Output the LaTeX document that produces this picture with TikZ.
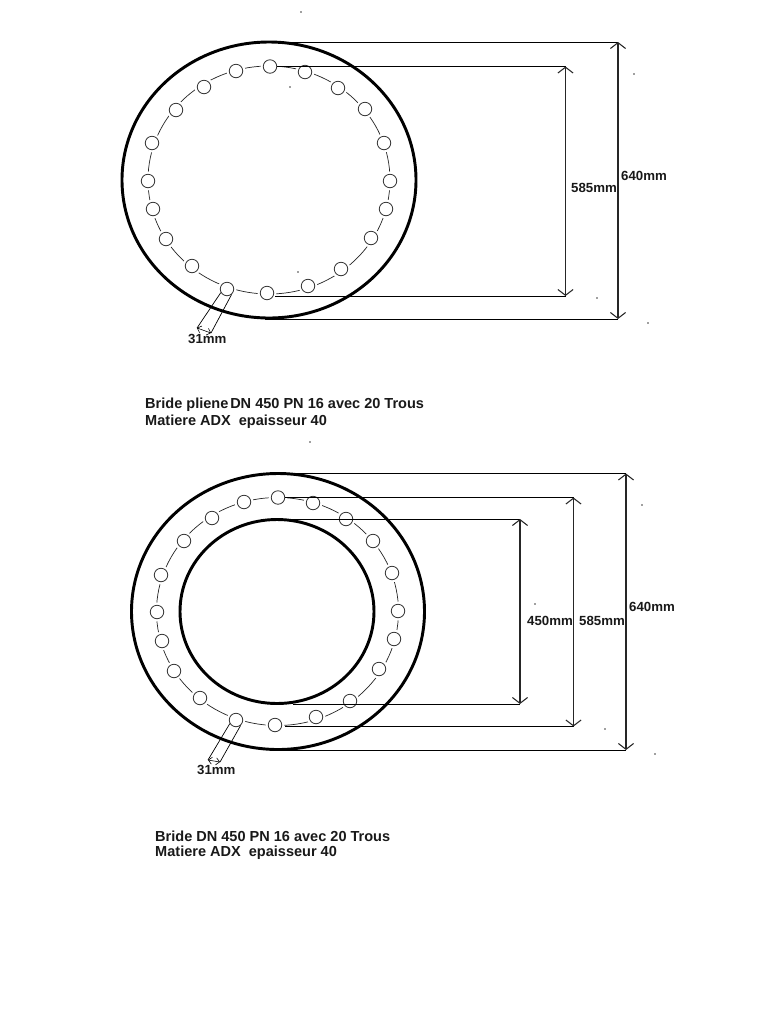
\documentclass[tikz, border=0pt]{standalone}
\usepackage{fontspec}
\setmainfont{Liberation Sans}
\usetikzlibrary{arrows.meta}
\tikzset{>={Straight Barb[length=5pt, width=13pt]}}
\tikzset{
    rim/.style={line width=2.5pt},
    ring/.style={line width=.6pt, black!85},
    hole/.style={circle, draw=black!80, fill=white, line width=.7pt, minimum size=11.5pt, inner sep=0pt,
        preaction={draw=white, line width=4.5pt}},
    ext/.style={line width=.8pt},
    dim/.style={line width=.9pt, black!85, <->},
    lab/.style={font=\bfseries\fontsize{11.3}{12}\selectfont, inner sep=0pt, text=black!90, anchor=west},
    caption/.style={font=\bfseries\fontsize{12.4}{14}\selectfont, inner sep=0pt, text=black!90, anchor=west},
    speck/.style={fill=black!75, inner sep=0pt, minimum size=1.4pt, circle},
}

\begin{document}
\begin{tikzpicture}[x=.03cm, y=-.03cm]
    \useasboundingbox[fill=white](0, 0)rectangle(768, 1024);
    % plate without bore
    \draw[ring](269, 180)ellipse[x radius=121, y radius=114];
    \draw[rim](269, 180)ellipse[x radius=147, y radius=138];
    \foreach \x/\y[count=\i] in {270/66.5, 305/72, 338/88, 365/109, 384/143, 390/181, 386/209, 371/238, 341/269, 308/286,
        267/293, 227/289, 192/266, 166/239, 153/209, 148/181, 152/143, 176/110, 204/87, 236/71}
        \node[hole](a\i)at(\x, \y){};
    \coordinate(a640t)at(287, 42);
    \coordinate(a640b)at(265, 319);
    \coordinate(a640u)at(618, 42);
    \coordinate(a640d)at(618, 319);
    \coordinate(a585u)at(565.5, 66.5);
    \coordinate(a585d)at(565.5, 296);
    \coordinate(a585s)at(275, 296);
    \coordinate(a31l)at(197, 328);
    \coordinate(a31r)at(211, 333);
    \draw[ext](a640t)--(a640u);
    \draw[ext](a640b)--(a640d);
    \draw[ext](a1)--(a585u);
    \draw[ext](a585s)--(a585d);
    \draw[dim](a640u)--(a640d);
    \draw[dim](a585u)--(a585d);
    \draw[ext, line width=.6pt](a12.-150)--(a31l);
    \draw[ext, line width=.6pt](a12.-50)--(a31r);
    \draw[line width=.5pt, <->, >={Straight Barb[length=3pt, width=6pt]}](a31l)--(a31r);
    \node[lab](alab640)at(621, 176){640mm};
    \node[lab](alab585)at(571, 188){585mm};
    \node[lab](alab31)at(188, 338.5){31mm};
    \node[caption](acap1)at(145, 405){Bride pliene\hspace{1.6pt}DN 450 PN 16 avec 20 Trous};
    \node[caption](acap2)at(145, 422){Matiere ADX\ \ epaisseur 40};

    % plate with bore
    \draw[ring](277.5, 611.5)ellipse[x radius=121, y radius=114];
    \draw[rim](278, 611.5)ellipse[x radius=146.5, y radius=138];
    \draw[rim](277, 611.5)ellipse[x radius=97, y radius=92];
    \foreach \x/\y[count=\i] in {278/497.5, 313/503, 346/519, 373/541, 392/573, 398/611, 394/639, 379/669, 350/701, 316/717,
        275/725, 236/720, 200/698, 174/671, 162/641, 157/612, 161/575, 184/541, 212/518, 244/502}
        \node[hole](b\i)at(\x, \y){};
    \coordinate(b640t)at(295, 473.5);
    \coordinate(b640b)at(280, 750);
    \coordinate(b640u)at(626, 473.5);
    \coordinate(b640d)at(626, 750);
    \coordinate(b585u)at(573.5, 497.5);
    \coordinate(b585d)at(573.5, 726.5);
    \coordinate(b585s)at(285, 726.5);
    \coordinate(b450t)at(293, 519);
    \coordinate(b450b)at(293, 704);
    \coordinate(b450u)at(520, 519);
    \coordinate(b450d)at(520, 704);
    \coordinate(b31l)at(208, 760);
    \coordinate(b31r)at(220, 762);
    \draw[ext](b640t)--(b640u);
    \draw[ext](b640b)--(b640d);
    \draw[ext](b1)--(b585u);
    \draw[ext](b585s)--(b585d);
    \draw[ext](b450t)--(b450u);
    \draw[ext](b450b)--(b450d);
    \draw[dim](b640u)--(b640d);
    \draw[dim](b585u)--(b585d);
    \draw[dim](b450u)--(b450d);
    \draw[ext, line width=.6pt](b12.-150)--(b31l);
    \draw[ext, line width=.6pt](b12.-50)--(b31r);
    \draw[line width=.5pt, <->, >={Straight Barb[length=3pt, width=6pt]}](b31l)--(b31r);
    \node[lab](blab640)at(629, 607){640mm};
    \node[lab](blab585)at(579, 620.5){585mm};
    \node[lab](blab450)at(527, 620.5){450mm};
    \node[lab](blab31)at(197, 770){31mm};
    \node[caption](bcap1)at(155, 836){Bride DN 450 PN 16 avec 20 Trous};
    \node[caption](bcap2)at(155, 853){Matiere ADX\ \ epaisseur 40};

    % stray dots of the scan
    \foreach \x/\y[count=\i] in {301/12, 290/87, 298/272, 634/74, 597/298, 648/323, 310/442, 642/505, 535/604, 605/729, 655/754}
        \node[speck](dot\i)at(\x, \y){};
\end{tikzpicture}
\end{document}
